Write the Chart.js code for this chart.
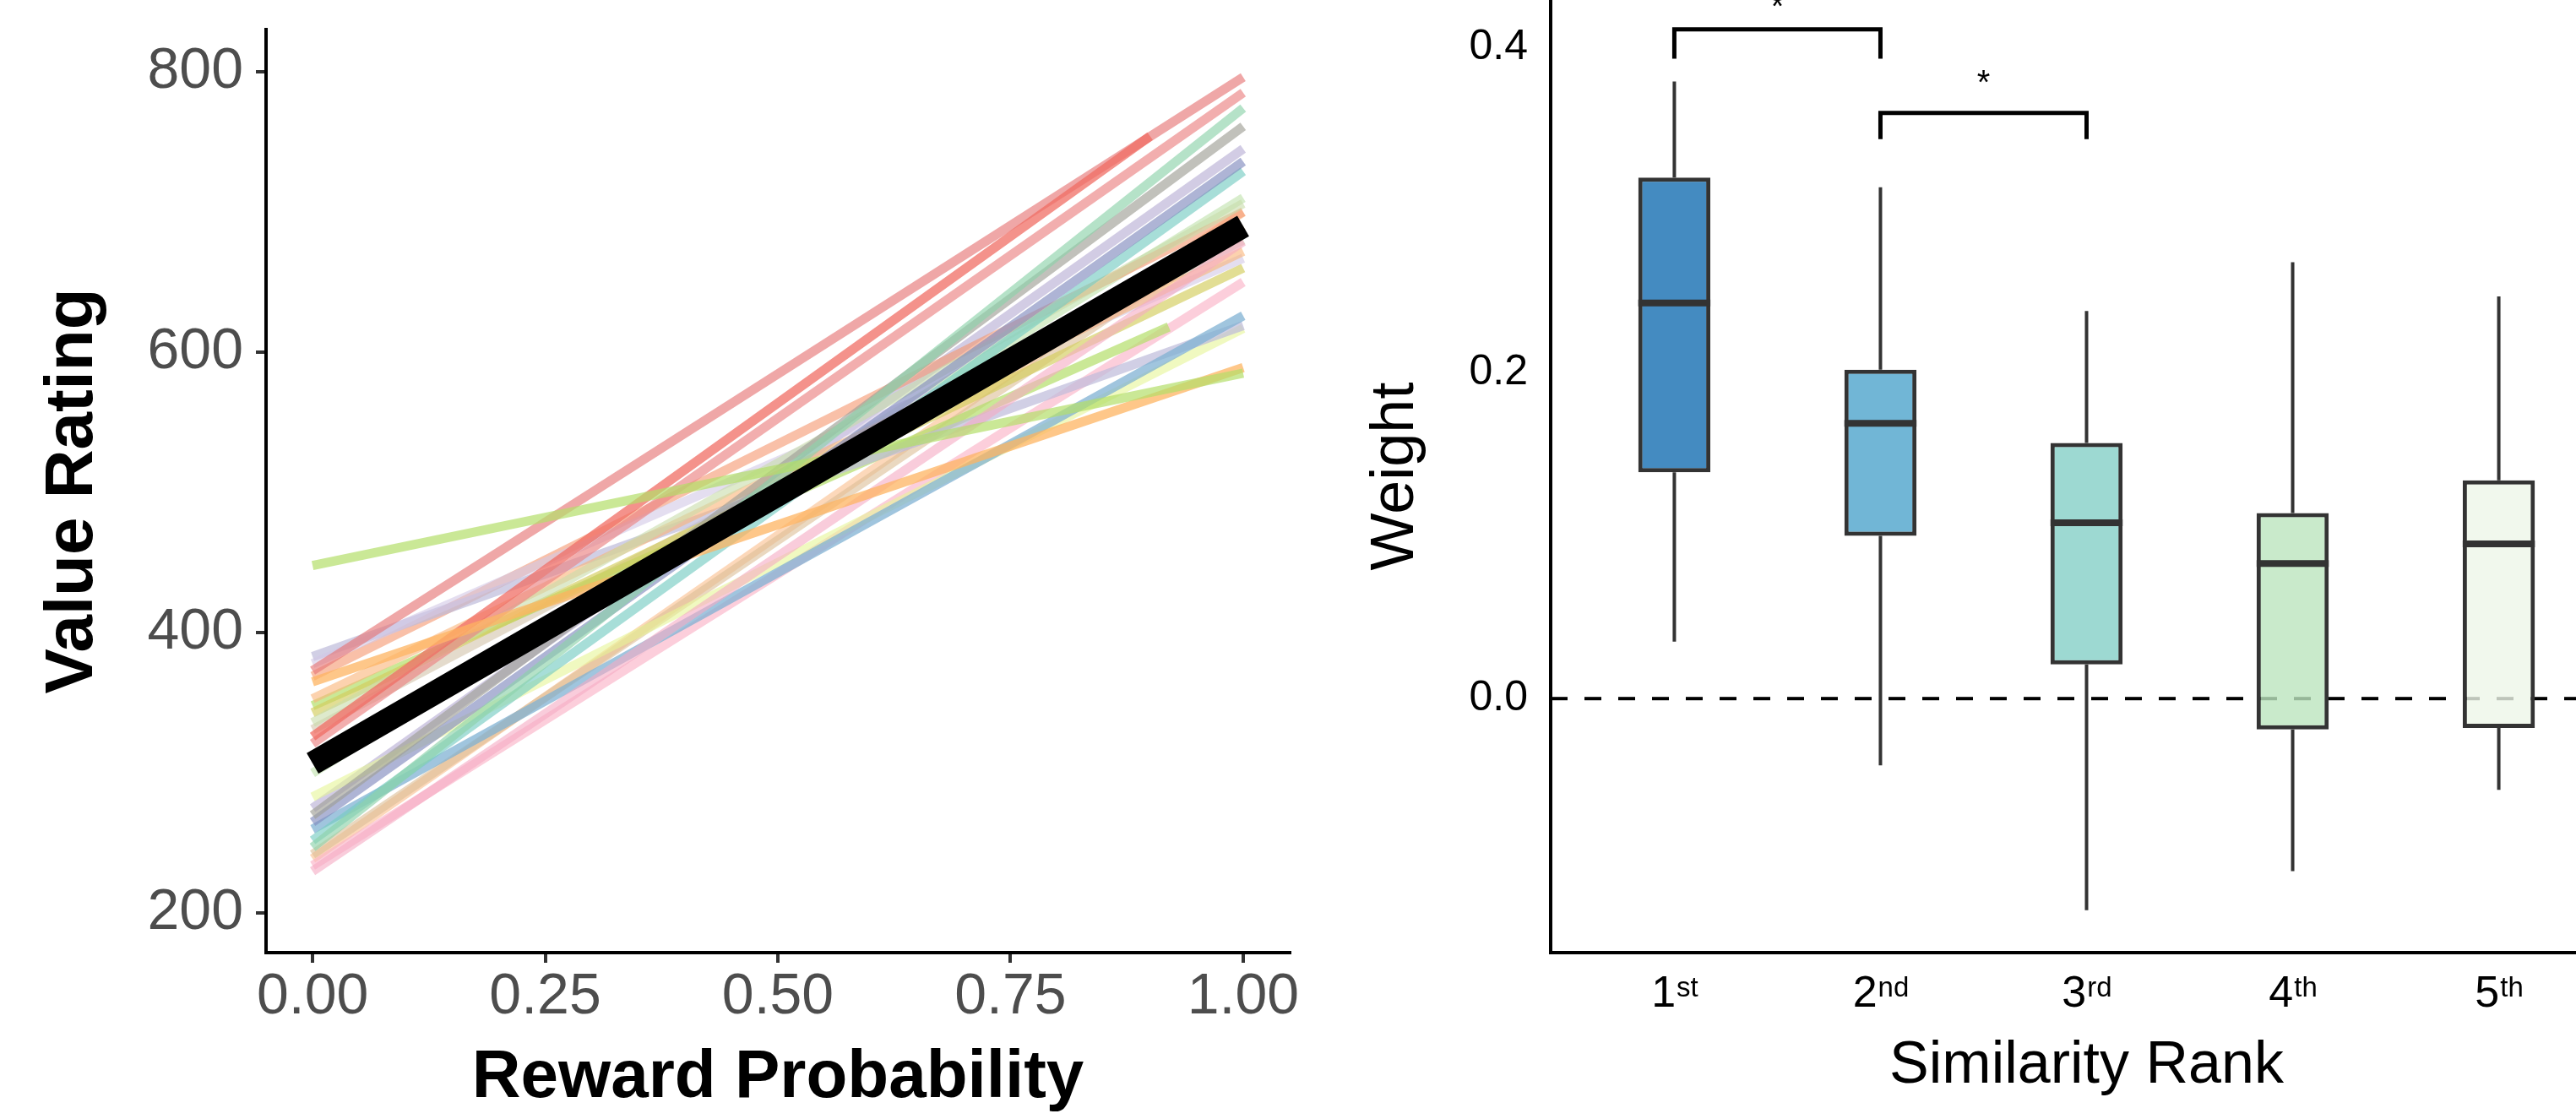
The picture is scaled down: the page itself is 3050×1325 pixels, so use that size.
<!DOCTYPE html>
<html>
<head>
<meta charset="utf-8">
<script src="https://cdn.jsdelivr.net/npm/chart.js@4.4.1/dist/chart.umd.min.js"></script>
<style>
  html, body { margin: 0; padding: 0; background: #fff; }
  #page { position: relative; width: 3050px; height: 1325px; overflow: hidden; background: #fff; }
  canvas { position: absolute; top: 0; }
  #valueChart { left: 0; }
  #weightChart { left: 1560px; }
</style>
</head>
<body>
<div id="page">
  <canvas id="valueChart" width="1560" height="1325"></canvas>
  <canvas id="weightChart" width="1545" height="1325"></canvas>
</div>
<script>
// ---- left panel: fitted line per participant (value at p = 0 and at last p) ----
const subjectStart = [448, 365, 326, 373, 321, 247, 270, 265, 252, 336, 230, 353, 378, 343, 260, 383, 283, 348, 369, 234, 242, 331, 239, 275, 300];
const subjectEnd   = [585, 589, 754, 796, 785, 774, 761, 736, 729, 706, 679, 672, 667, 660, 626, 619, 617, 618, 700, 650, 690, 680, 700, 745, 710];
const subjectEndP  = [1, 1, 0.9, 1, 1, 1, 1, 1, 1, 1, 1, 1, 1, 1, 1, 1, 1, 0.92, 1, 1, 1, 1, 1, 1, 1];
const meanStart = 307;
const meanEnd = 690;
const probTicks = [0, 0.25, 0.5, 0.75, 1];
const ratingTicks = [200, 400, 600, 800];

// ---- right panel: weight by similarity rank ----
const rankNumbers = ['1', '2', '3', '4', '5'];
const rankSuffix = ['st', 'nd', 'rd', 'th', 'th'];
const weightMin    = [0.035, -0.041, -0.130, -0.106, -0.056];
const weightQ1     = [0.139, 0.100, 0.021, -0.019, -0.018];
const weightMedian = [0.243, 0.169, 0.108, 0.083, 0.095];
const weightQ3     = [0.320, 0.202, 0.157, 0.114, 0.134];
const weightMax    = [0.379, 0.314, 0.238, 0.268, 0.247];
const weightTicks = [0, 0.2, 0.4];
const bracketPairs = [[1, 2], [2, 3]];
const bracketTop = [0.411, 0.3596];
const bracketLeg = [0.393, 0.3435];
const starLevel = [0.430, 0.3835];

// styles
const lineColors = [
  'rgba(179,222,105,0.7)', 'rgba(253,180,98,0.75)', 'rgba(240,110,100,0.75)', 'rgba(230,120,120,0.65)',
  'rgba(235,130,130,0.65)', 'rgba(141,211,170,0.65)', 'rgba(160,160,150,0.65)', 'rgba(130,140,190,0.65)',
  'rgba(120,205,195,0.65)', 'rgba(200,220,170,0.6)', 'rgba(245,170,195,0.6)', 'rgba(250,180,120,0.6)',
  'rgba(210,200,230,0.6)', 'rgba(210,205,90,0.65)', 'rgba(128,177,211,0.75)', 'rgba(190,186,218,0.7)',
  'rgba(230,245,150,0.6)', 'rgba(179,222,105,0.7)', 'rgba(245,150,110,0.6)', 'rgba(250,180,200,0.65)',
  'rgba(220,190,150,0.6)', 'rgba(210,195,170,0.6)', 'rgba(250,190,140,0.6)', 'rgba(180,170,210,0.6)',
  'rgba(190,225,170,0.6)'
];
const boxColors = ['rgba(21,110,178,0.8)', 'rgba(78,164,204,0.8)', 'rgba(133,208,199,0.8)', 'rgba(188,229,190,0.8)', 'rgba(238,246,233,0.8)'];
const boxWidth = 0.35;

Chart.defaults.font.family = "'Liberation Sans', Arial, sans-serif";

// fixed axis boxes, no extra label padding
function fitY(width) {
  return s => { s.width = width; s.paddingTop = 0; s.paddingBottom = 0; };
}
function fitX(height) {
  return s => { s.height = height; s.paddingLeft = 0; s.paddingRight = 0; };
}

/** Left panel */
const subjectSets = subjectStart.map((start, i) => ({
  data: [{x: 0, y: start}, {x: subjectEndP[i], y: subjectEnd[i]}],
  borderColor: lineColors[i % lineColors.length],
  borderWidth: 11,
  pointRadius: 0,
  order: 1
}));

new Chart(document.getElementById('valueChart'), {
  type: 'line',
  data: {
    datasets: [...subjectSets, {
      data: [{x: 0, y: meanStart}, {x: 1, y: meanEnd}],
      borderColor: '#000',
      borderWidth: 28,
      pointRadius: 0,
      order: 0
    }]
  },
  options: {
    responsive: false,
    animation: false,
    layout: {padding: {top: 35, right: 33, left: 0, bottom: 0}},
    plugins: {legend: {display: false}, tooltip: {enabled: false}},
    scales: {
      x: {
        type: 'linear', min: -0.05, max: 1.05,
        afterBuildTicks: s => { s.ticks = probTicks.map(v => ({value: v})); },
        afterFit: fitX(197),
        ticks: {callback: v => Number(v).toFixed(2), font: {size: 68}, color: '#4d4d4d', padding: 0, maxRotation: 0, autoSkip: false},
        grid: {display: true, drawOnChartArea: false, drawTicks: true, tickLength: 12, color: '#333', lineWidth: 4},
        border: {display: true, color: '#000', width: 4},
        title: {display: true, text: 'Reward Probability', color: '#000', font: {size: 80, weight: 'bold'}, padding: {top: 0, bottom: 0}}
      },
      y: {
        type: 'linear', min: 172, max: 830,
        afterBuildTicks: s => { s.ticks = ratingTicks.map(v => ({value: v})); },
        afterFit: fitY(315),
        ticks: {callback: v => String(v), font: {size: 68}, color: '#4d4d4d', padding: 15},
        grid: {display: true, drawOnChartArea: false, drawTicks: true, tickLength: 12, color: '#333', lineWidth: 4},
        border: {display: true, color: '#000', width: 4},
        title: {display: true, text: 'Value Rating', color: '#000', font: {size: 80, weight: 'bold'}, padding: {top: 39, bottom: 0}}
      }
    }
  }
});

/** Right panel: box plot built from floating bars and line segments */
const whiskerData = [];
const medianData = [];
weightMin.forEach((lo, i) => {
  const x = i + 1;
  whiskerData.push({x, y: weightQ3[i]}, {x, y: weightMax[i]}, {x, y: null});
  whiskerData.push({x, y: lo}, {x, y: weightQ1[i]}, {x, y: null});
  medianData.push({x: x - boxWidth / 2, y: weightMedian[i]}, {x: x + boxWidth / 2, y: weightMedian[i]}, {x, y: null});
});

const bracketSets = bracketPairs.map(([a, b], i) => ({
  type: 'line',
  data: [{x: a, y: bracketLeg[i]}, {x: a, y: bracketTop[i]}, {x: b, y: bracketTop[i]}, {x: b, y: bracketLeg[i]}],
  borderColor: '#000',
  borderWidth: 5,
  borderJoinStyle: 'miter',
  pointRadius: 0,
  order: 1
}));

// "1st", "2nd" ... with raised suffix
const rankLabelPlugin = {
  id: 'rankLabels',
  afterDraw(chart) {
    const {ctx, chartArea, scales: {x}} = chart;
    const base = chartArea.bottom + 64;
    const numFont = "52px 'Liberation Sans', Arial, sans-serif";
    const supFont = "33px 'Liberation Sans', Arial, sans-serif";
    ctx.save();
    ctx.fillStyle = '#000';
    ctx.textBaseline = 'alphabetic';
    ctx.textAlign = 'left';
    rankNumbers.forEach((num, i) => {
      const px = x.getPixelForValue(i + 1);
      ctx.font = numFont;
      const wNum = ctx.measureText(num).width;
      ctx.font = supFont;
      const wSuf = ctx.measureText(rankSuffix[i]).width;
      const start = px - (wNum + wSuf) / 2;
      ctx.font = numFont;
      ctx.fillText(num, start, base);
      ctx.font = supFont;
      ctx.fillText(rankSuffix[i], start + wNum + 1, base - 12);
    });
    ctx.restore();
  }
};

// significance stars above brackets
const starPlugin = {
  id: 'stars',
  afterDatasetsDraw(chart) {
    const {ctx, scales: {x, y}} = chart;
    ctx.save();
    ctx.fillStyle = '#000';
    ctx.font = "40px 'Liberation Sans', Arial, sans-serif";
    ctx.textAlign = 'center';
    ctx.textBaseline = 'alphabetic';
    bracketPairs.forEach(([a, b], i) => {
      const px = (x.getPixelForValue(a) + x.getPixelForValue(b)) / 2;
      ctx.fillText('*', px, y.getPixelForValue(starLevel[i]) + 23);
    });
    ctx.restore();
  }
};

new Chart(document.getElementById('weightChart'), {
  type: 'bar',
  data: {
    datasets: [
      {
        type: 'line',
        data: [{x: 0.4, y: 0}, {x: 5.6, y: 0}],
        borderColor: '#000',
        borderWidth: 4,
        borderDash: [20, 20],
        pointRadius: 0,
        order: 10
      },
      {
        type: 'line',
        data: whiskerData,
        borderColor: '#333',
        borderWidth: 4,
        spanGaps: false,
        pointRadius: 0,
        order: 9
      },
      {
        type: 'bar',
        data: weightQ1.map((q1, i) => ({x: i + 1, y: [q1, weightQ3[i]]})),
        backgroundColor: boxColors,
        borderColor: '#333',
        borderWidth: 5,
        borderSkipped: false,
        categoryPercentage: 1,
        barPercentage: boxWidth,
        order: 5
      },
      {
        type: 'line',
        data: medianData,
        borderColor: '#333',
        borderWidth: 8,
        spanGaps: false,
        pointRadius: 0,
        order: 2
      },
      ...bracketSets
    ]
  },
  options: {
    responsive: false,
    animation: false,
    layout: {padding: 0},
    plugins: {legend: {display: false}, tooltip: {enabled: false}},
    scales: {
      x: {
        type: 'linear', min: 0.4, max: 5.6, offset: false,
        afterBuildTicks: s => { s.ticks = rankNumbers.map((_, i) => ({value: i + 1})); },
        afterFit: fitX(197),
        ticks: {display: false},
        grid: {display: false, drawTicks: false, offset: false},
        border: {display: true, color: '#000', width: 4},
        title: {display: true, text: 'Similarity Rank', color: '#000', font: {size: 70}, padding: {top: 0, bottom: 20}}
      },
      y: {
        type: 'linear', min: -0.156, max: 0.429,
        afterBuildTicks: s => { s.ticks = weightTicks.map(v => ({value: v})); },
        afterFit: fitY(276),
        ticks: {callback: v => Number(v).toFixed(1), font: {size: 50}, color: '#000', padding: 27},
        grid: {display: false, drawTicks: false},
        border: {display: true, color: '#000', width: 4},
        title: {display: true, text: 'Weight', color: '#000', font: {size: 72}, padding: {top: 50, bottom: 0}}
      }
    }
  },
  plugins: [rankLabelPlugin, starPlugin]
});
</script>
</body>
</html>
